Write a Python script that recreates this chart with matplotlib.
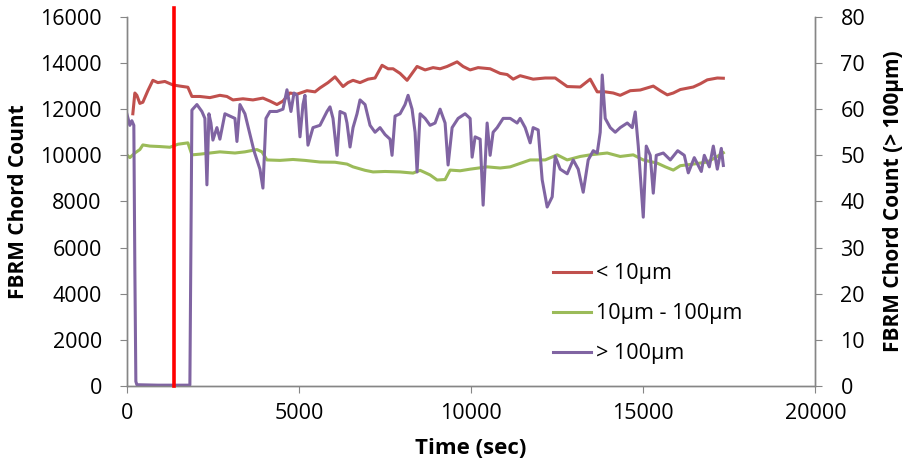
import matplotlib
matplotlib.use("Agg")
import matplotlib.pyplot as plt

plt.rcParams['font.family'] = ['Open Sans', 'DejaVu Sans']

# Time (sec) and counts
red_t = [174, 233, 291, 378, 465, 610, 756, 901, 1105, 1337, 1541, 1773, 1890, 2122,
         2413, 2703, 2907, 3081, 3372, 3663, 3953, 4157, 4360, 4535, 4738, 4942, 5233,
         5465, 5610, 5843, 6047, 6279, 6424, 6570, 6773, 7006, 7209, 7413, 7587, 7733,
         7936, 8140, 8285, 8430, 8663, 8895, 9099, 9302, 9593, 9767, 9971, 10203, 10552,
         10843, 11047, 11221, 11424, 11802, 12151, 12442, 12791, 13169, 13459, 13663,
         13895, 14128, 14331, 14622, 14913, 15291, 15494, 15698, 15872, 16076, 16453,
         16657, 16860, 17151, 17326]
red_y = [11800, 12700, 12600, 12250, 12300, 12800, 13250, 13150, 13200, 13050, 13000,
         12950, 12550, 12550, 12500, 12600, 12550, 12400, 12450, 12400, 12480, 12350,
         12200, 12350, 12700, 12650, 12800, 12750, 12920, 13150, 13400, 12980, 13150,
         13250, 13150, 13300, 13350, 13900, 13750, 13750, 13550, 13250, 13550, 13850,
         13700, 13800, 13750, 13850, 14050, 13850, 13700, 13800, 13750, 13550, 13500,
         13300, 13450, 13300, 13350, 13350, 12980, 12960, 13300, 12750, 12750, 12700,
         12600, 12800, 12830, 13000, 12800, 12620, 12700, 12850, 12960, 13100, 13270,
         13350, 13340]

green_t = [0, 87, 233, 378, 465, 669, 959, 1250, 1483, 1773, 1890, 2122, 2413, 2703,
           3140, 3430, 3779, 3924, 4070, 4448, 4826, 5174, 5610, 6047, 6395, 6570, 6919,
           7151, 7500, 7936, 8314, 8518, 8808, 9012, 9244, 9390, 9680, 9971, 10465, 10843,
           11134, 11715, 12151, 12500, 12791, 13169, 13459, 13953, 14331, 14709, 15000,
           15407, 15640, 15872, 16076, 16453, 16860, 17093, 17326]
green_y = [10020, 9900, 10100, 10250, 10450, 10400, 10380, 10350, 10480, 10540, 10020,
           10050, 10100, 10150, 10100, 10150, 10250, 10150, 9800, 9780, 9820, 9780, 9710,
           9700, 9620, 9500, 9350, 9280, 9300, 9280, 9230, 9350, 9150, 8930, 8950, 9360,
           9330, 9400, 9500, 9450, 9500, 9800, 9800, 10020, 9800, 9950, 10020, 10100, 9950,
           10020, 9800, 9660, 9500, 9360, 9550, 9620, 9710, 9900, 10110]

purple_t = [0, 87, 145, 203, 233, 262, 291, 900, 1831, 1860, 1890, 2035, 2180, 2267,
            2326, 2384, 2442, 2500, 2616, 2703, 2849, 2994, 3140, 3198, 3285, 3430, 3575,
            3692, 3779, 3866, 3953, 4041, 4157, 4360, 4535, 4651, 4767, 4855, 4942, 5029,
            5116, 5174, 5261, 5407, 5610, 5814, 5901, 5988, 6105, 6192, 6337, 6395, 6483,
            6570, 6686, 6773, 6919, 7064, 7209, 7354, 7500, 7645, 7703, 7791, 7936, 8081,
            8169, 8285, 8372, 8430, 8518, 8663, 8808, 8953, 9099, 9244, 9331, 9448, 9622,
            9825, 9971, 10029, 10116, 10262, 10349, 10465, 10552, 10639, 10756, 10930,
            11134, 11337, 11424, 11570, 11715, 11802, 11948, 12064, 12209, 12355, 12442,
            12587, 12791, 12965, 13111, 13256, 13401, 13547, 13663, 13750, 13808, 13895,
            14041, 14186, 14331, 14535, 14680, 14767, 14855, 15000, 15087, 15203, 15291,
            15378, 15582, 15785, 16000, 16192, 16308, 16482, 16686, 16773, 16919, 17035,
            17151, 17267, 17326]
purple_y = [59, 56.5, 57.5, 56.5, 25, 1, 0.3, 0.2, 0.2, 30, 59.8, 61, 59.5, 58, 43.6,
            59, 57, 53.3, 56, 53.5, 59, 58.5, 58, 53, 61, 59, 54.6, 51, 49, 47, 42.9, 58,
            59.5, 59.5, 60, 64.2, 59.5, 63.5, 63, 54, 61, 63, 52.2, 56, 56.5, 59.5, 60.5,
            58, 50, 59.5, 59, 57, 51.8, 56, 59, 62, 61, 56.5, 55, 56, 54.5, 53.5, 50, 58.5,
            59, 61, 63, 60, 55, 46.4, 59, 58, 56.5, 57, 60, 57, 47.9, 56, 58, 59, 58, 49.6,
            54, 53.5, 39.2, 57, 50, 55, 56, 58, 58, 57, 58, 56, 52.7, 56, 55.5, 44.7, 38.8,
            41, 49.8, 47, 46, 49, 47, 42, 49, 51, 50.5, 55, 67.4, 58, 56, 55, 56, 57, 56,
            59.4, 52, 36.6, 52, 50, 41.8, 50, 50.5, 49, 51, 50, 46.2, 49.5, 46.5, 50, 47.5,
            52, 47, 51.5, 47.8]

marker_t = 1380

labels = ['< 10µm', '10µm - 100µm', '> 100µm']
colors = ['#C0504D', '#9BBB59', '#8064A2']

fig = plt.figure(figsize=(9.06, 4.68), dpi=100)
ax = fig.add_axes([0.140, 0.175, 0.760, 0.789])
ax2 = ax.twinx()

l1, = ax.plot(red_t, red_y, color=colors[0], lw=2.2, label=labels[0])
l2, = ax.plot(green_t, green_y, color=colors[1], lw=2.2, label=labels[1])
l3, = ax2.plot(purple_t, purple_y, color=colors[2], lw=2.2, label=labels[2])
# marker line, runs a little above the plot area
ax2.axvline(marker_t, ymin=0, ymax=1.025, color='red', lw=2.6, clip_on=False, zorder=5)

ax.set_xlim(0, 20000)
ax.set_ylim(0, 16000)
ax2.set_ylim(0, 80)
ax.set_xticks(range(0, 20001, 5000))
ax.set_yticks(range(0, 16001, 2000))
ax2.set_yticks(range(0, 81, 10))

axis_grey = '#868686'
for a in (ax, ax2):
    a.spines['top'].set_visible(False)
    for s in ('left', 'right', 'bottom'):
        a.spines[s].set_color(axis_grey)
        a.spines[s].set_linewidth(1)
ax.tick_params(axis='y', length=5, color=axis_grey, labelsize=15.5, pad=13)
ax.tick_params(axis='x', length=5, color=axis_grey, labelsize=15.5, pad=7)
ax2.tick_params(axis='y', length=5, color=axis_grey, labelsize=15.5, pad=13)

ax.set_xlabel('Time (sec)', fontsize=16, fontweight='bold', labelpad=10)
ax.set_ylabel('FBRM Chord Count', fontsize=15, fontweight='bold', labelpad=8)
ax2.set_ylabel('FBRM Chord Count (> 100µm)', fontsize=15, fontweight='bold', labelpad=13)

fig.legend(handles=[l1, l2, l3], labels=labels, loc='upper left',
           bbox_to_anchor=(0.610, 0.437), frameon=False, fontsize=15.5,
           handlelength=1.8, handletextpad=0.2, labelspacing=0.88,
           borderpad=0, borderaxespad=0)

fig.savefig('out.png', dpi=100)
